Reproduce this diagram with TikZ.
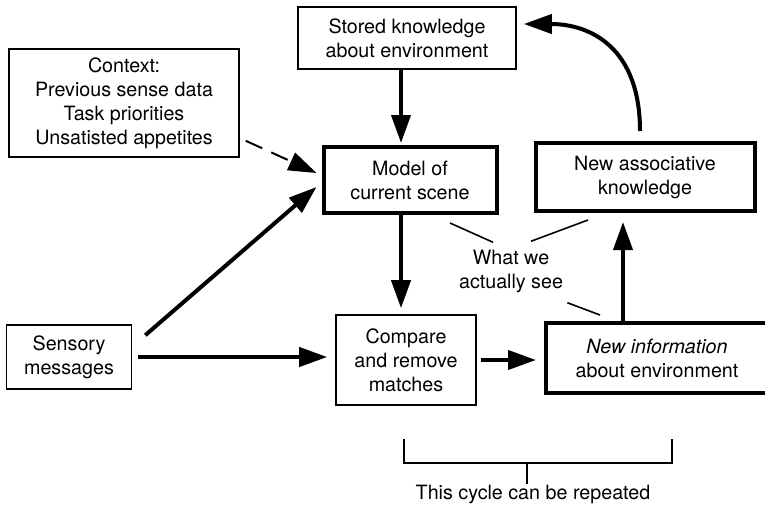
\documentclass[tikz,border=0pt]{standalone}
\usepackage{fontspec}
\setmainfont{TeX Gyre Heros}
\usetikzlibrary{arrows.meta}

\begin{document}
\begin{tikzpicture}[x=0.5pt, y=-0.5pt,
        every node/.style={font=\fontsize{9.85}{12}\selectfont, align=center, inner sep=0pt},
        box/.style={draw, line width=0.8pt},
        thickbox/.style={draw, line width=2pt},
        arr/.style={line width=2pt, -{Triangle[length=14pt, width=9.5pt]}},
        dasharr/.style={line width=1pt, dash pattern=on 9pt off 5pt, -{Triangle[length=14pt, width=9.5pt]}},
        seeline/.style={line width=0.8pt}]
            \useasboundingbox (0,0) rectangle (765,504);
            \node[box, minimum width=109pt, minimum height=31pt] (stored) at (407,38) {Stored knowledge\\about environment};
            \node[box, minimum width=115pt, minimum height=54pt] (context) at (124,103) {Context:\\Previous sense data\\Task priorities\\Unsatisted appetites};
            \node[thickbox, minimum width=86.5pt, minimum height=33pt] (model) at (410,180) {Model of\\current scene};
            \node[thickbox, minimum width=109.5pt, minimum height=34pt] (assoc) at (645,177) {New associative\\knowledge};
            \node[box, minimum width=62.5pt, minimum height=32pt] (sensory) at (69,357) {Sensory\\messages};
            \node[box, minimum width=70pt, minimum height=45pt] (compare) at (406,360) {Compare\\and remove\\matches};
            \node[thickbox, minimum width=111pt, minimum height=35pt] (newinfo) at (657,358) {\textit{New information}\\about environment};
            \node (see) at (511,271) {What we\\actually see};
            \node (cycle) at (533,494) {This cycle can be repeated};
            \draw[arr, shorten >=1pt] ([xshift=-3pt]stored.south) -- ([xshift=-4.5pt]model.north);
            \draw[arr, shorten >=3pt] ([xshift=-4.5pt]model.south) -- ([xshift=-2.5pt]compare.north);
            \draw[arr, shorten <=3pt, shorten >=4pt] (sensory.east) -- (sensory.east -| compare.west);
            \draw[arr] ([shift={(6.5pt,-5.5pt)}]sensory.north east) -- ([shift={(-2.5pt,-3.5pt)}]model.west);
            \draw[dasharr] ([shift={(3pt,8.5pt)}]context.south east) -- ([shift={(-2.5pt,3.5pt)}]model.west);
            \draw[arr, shorten <=2pt, shorten >=4pt] (compare.east) -- (compare.east -| newinfo.west);
            \draw[arr, shorten >=4.5pt] ([xshift=-17pt]newinfo.north) -- ([xshift=-11pt]assoc.south);
            \draw[arr] ([shift={(-2.5pt,5pt)}]assoc.north) .. controls +(0,-83) and +(67,0) .. ([shift={(3.5pt,7pt)}]stored.east);
            % what we actually see
            \draw[seeline] ([shift={(20pt,-4pt)}]model.south) -- ([shift={(-9pt,3.5pt)}]see.north);
            \draw[seeline] ([shift={(-28.5pt,-3.5pt)}]assoc.south) -- ([shift={(10pt,4pt)}]see.north);
            \draw[seeline] ([shift={(2pt,-5pt)}]see.south east) -- ([shift={(-28.5pt,3pt)}]newinfo.north);
            % bracket
            \draw[seeline] (404,439) -- (404,463) -- (672,463) -- (672,439);
            \draw[seeline] ([xshift=-3pt]cycle.north) -- ++(0,-22);
        \end{tikzpicture}
\end{document}
